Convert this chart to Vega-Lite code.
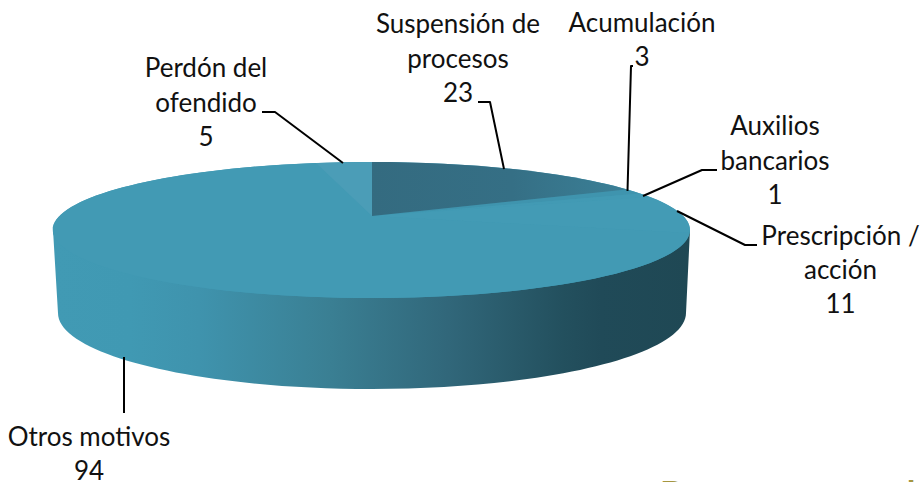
{"$schema":"https://vega.github.io/schema/vega-lite/v6.json","width":921,"height":482,"padding":0,"autosize":{"type":"none"},"background":"white","config":{"view":{"stroke":null},"axis":{"disable":true},"text":{"font":"Lato"}},
"data":{"name":"motivos","values":[
{"motivo":"Suspensión de procesos","casos":23,"etiqueta":"Suspensión de\nprocesos\n23"},
{"motivo":"Acumulación","casos":3,"etiqueta":"Acumulación\n3"},
{"motivo":"Auxilios bancarios","casos":1,"etiqueta":"Auxilios\nbancarios\n1"},
{"motivo":"Prescripción / acción","casos":11,"etiqueta":"Prescripción /\nacción\n11"},
{"motivo":"Otros motivos","casos":94,"etiqueta":"Otros motivos\n94"},
{"motivo":"Perdón del ofendido","casos":5,"etiqueta":"Perdón del\nofendido\n5"}]},
"resolve":{"scale":{"shape":"independent","color":"independent"}},
"layer":[
{"transform":[{"filter":"datum.motivo=='Otros motivos'"}],
"mark":{"type":"point","filled":true,"opacity":1,"size":4,"shape":"M53 230L58 313A314 76 0 0 0 686 313L690 230Z","fill":{"gradient":"linear","x1":0,"x2":1,"y1":0,"y2":0,"stops":[{"offset":0,"color":"#419ab4"},{"offset":0.12,"color":"#4099b3"},{"offset":0.23,"color":"#3f93ad"},{"offset":0.435,"color":"#3a7f93"},{"offset":0.62,"color":"#31677a"},{"offset":0.8,"color":"#23505e"},{"offset":0.86,"color":"#204a58"},{"offset":1,"color":"#1f4854"}]}},
"encoding":{"x":{"datum":0,"type":"quantitative","scale":{"domain":[0,921],"range":[0,921]}},"y":{"datum":0,"type":"quantitative","scale":{"domain":[0,482],"range":[0,482]}}}},
{"transform":[{"filter":"datum.motivo=='Otros motivos'"}],
"mark":{"type":"point","filled":true,"opacity":1,"size":4,"color":"#429ab4","shape":"M53 230A318.5 68 0 1 1 690 230A318.5 68 0 1 1 53 230Z"},
"encoding":{"x":{"datum":0,"type":"quantitative","scale":{"domain":[0,921],"range":[0,921]}},"y":{"datum":0,"type":"quantitative","scale":{"domain":[0,482],"range":[0,482]}}}},
{"transform":[{"filter":"datum.motivo!='Suspensión de procesos'"}],
"mark":{"type":"point","filled":true,"opacity":1,"size":4},
"encoding":{"x":{"datum":0,"type":"quantitative","scale":{"domain":[0,921],"range":[0,921]}},"y":{"datum":0,"type":"quantitative","scale":{"domain":[0,482],"range":[0,482]}},
"shape":{"field":"motivo","type":"nominal","legend":null,"scale":{"domain":["Acumulación","Auxilios bancarios","Prescripción / acción","Otros motivos","Perdón del ofendido"],"range":["M372 216L627 189.4A318.5 68 0 0 1 640 193.6Z","M372 216L640 193.6A318.5 68 0 0 1 650 197Z","M372 216L650 197A318.5 68 0 0 1 689.5 233Z","M372 216L689.5 233A318.5 68 0 1 1 316 163Z","M372 216L316 163A318.5 68 0 0 1 372 162Z"]}},
"color":{"field":"motivo","type":"nominal","legend":null,"scale":{"domain":["Acumulación","Auxilios bancarios","Prescripción / acción","Otros motivos","Perdón del ofendido"],"range":["#3f94ae","#429ab4","#439bb5","#429ab4","#4b9db7"]}}}},
{"transform":[{"filter":"datum.motivo=='Suspensión de procesos'"}],
"mark":{"type":"point","filled":true,"opacity":1,"size":4,"shape":"M372 216L372 162A318.5 68 0 0 1 627 189.4Z","fill":{"gradient":"linear","x1":0,"x2":1,"y1":0,"y2":0,"stops":[{"offset":0,"color":"#346b80"},{"offset":0.55,"color":"#356f85"},{"offset":1,"color":"#3b8097"}]}},
"encoding":{"x":{"datum":0,"type":"quantitative","scale":{"domain":[0,921],"range":[0,921]}},"y":{"datum":0,"type":"quantitative","scale":{"domain":[0,482],"range":[0,482]}}}},
{"mark":{"type":"point","filled":false,"opacity":1,"size":4,"stroke":"#000000","strokeWidth":2,"strokeJoin":"round"},
"encoding":{"x":{"datum":0,"type":"quantitative","scale":{"domain":[0,921],"range":[0,921]}},"y":{"datum":0,"type":"quantitative","scale":{"domain":[0,482],"range":[0,482]}},
"shape":{"field":"motivo","type":"nominal","legend":null,"scale":{"domain":["Suspensión de procesos","Acumulación","Auxilios bancarios","Prescripción / acción","Otros motivos","Perdón del ofendido"],"range":["M478 102L490 102L504 169","M627.5 191L631 66L633 66","M643 196L702 170L717 170","M677 211L745 245L757 245","M124 357L124 413","M262 112L275 112L343 163"]}}}},
{"transform":[{"filter":"datum.motivo=='Suspensión de procesos'"}],"mark":{"type":"text","fontSize":26,"lineHeight":34.5,"lineBreak":"\n","align":"center","baseline":"alphabetic","color":"#111111"},"encoding":{"text":{"field":"etiqueta"},"x":{"datum":458,"type":"quantitative","scale":{"domain":[0,921],"range":[0,921]}},"y":{"datum":33,"type":"quantitative","scale":{"domain":[0,482],"range":[0,482]}}}},
{"transform":[{"filter":"datum.motivo=='Acumulación'"}],"mark":{"type":"text","fontSize":26,"lineHeight":34.5,"lineBreak":"\n","align":"center","baseline":"alphabetic","color":"#111111"},"encoding":{"text":{"field":"etiqueta"},"x":{"datum":642,"type":"quantitative","scale":{"domain":[0,921],"range":[0,921]}},"y":{"datum":31.5,"type":"quantitative","scale":{"domain":[0,482],"range":[0,482]}}}},
{"transform":[{"filter":"datum.motivo=='Auxilios bancarios'"}],"mark":{"type":"text","fontSize":26,"lineHeight":34.5,"lineBreak":"\n","align":"center","baseline":"alphabetic","color":"#111111"},"encoding":{"text":{"field":"etiqueta"},"x":{"datum":775,"type":"quantitative","scale":{"domain":[0,921],"range":[0,921]}},"y":{"datum":135,"type":"quantitative","scale":{"domain":[0,482],"range":[0,482]}}}},
{"transform":[{"filter":"datum.motivo=='Prescripción / acción'"}],"mark":{"type":"text","fontSize":26,"lineHeight":34,"lineBreak":"\n","align":"center","baseline":"alphabetic","color":"#111111"},"encoding":{"text":{"field":"etiqueta"},"x":{"datum":840.5,"type":"quantitative","scale":{"domain":[0,921],"range":[0,921]}},"y":{"datum":245,"type":"quantitative","scale":{"domain":[0,482],"range":[0,482]}}}},
{"transform":[{"filter":"datum.motivo=='Otros motivos'"}],"mark":{"type":"text","fontSize":26,"lineHeight":34.5,"lineBreak":"\n","align":"center","baseline":"alphabetic","color":"#111111"},"encoding":{"text":{"field":"etiqueta"},"x":{"datum":89,"type":"quantitative","scale":{"domain":[0,921],"range":[0,921]}},"y":{"datum":445.5,"type":"quantitative","scale":{"domain":[0,482],"range":[0,482]}}}},
{"transform":[{"filter":"datum.motivo=='Perdón del ofendido'"}],"mark":{"type":"text","fontSize":26,"lineHeight":34.5,"lineBreak":"\n","align":"center","baseline":"alphabetic","color":"#111111"},"encoding":{"text":{"field":"etiqueta"},"x":{"datum":206,"type":"quantitative","scale":{"domain":[0,921],"range":[0,921]}},"y":{"datum":77,"type":"quantitative","scale":{"domain":[0,482],"range":[0,482]}}}},
{"data":{"values":[{"texto":"Departamento de"}]},"mark":{"type":"text","fontSize":35,"fontWeight":"bold","align":"left","baseline":"alphabetic","color":"#a59640","clip":true},"encoding":{"text":{"field":"texto"},"x":{"datum":660,"type":"quantitative","scale":{"domain":[0,921],"range":[0,921]}},"y":{"datum":506,"type":"quantitative","scale":{"domain":[0,482],"range":[0,482]}}}}
]}
